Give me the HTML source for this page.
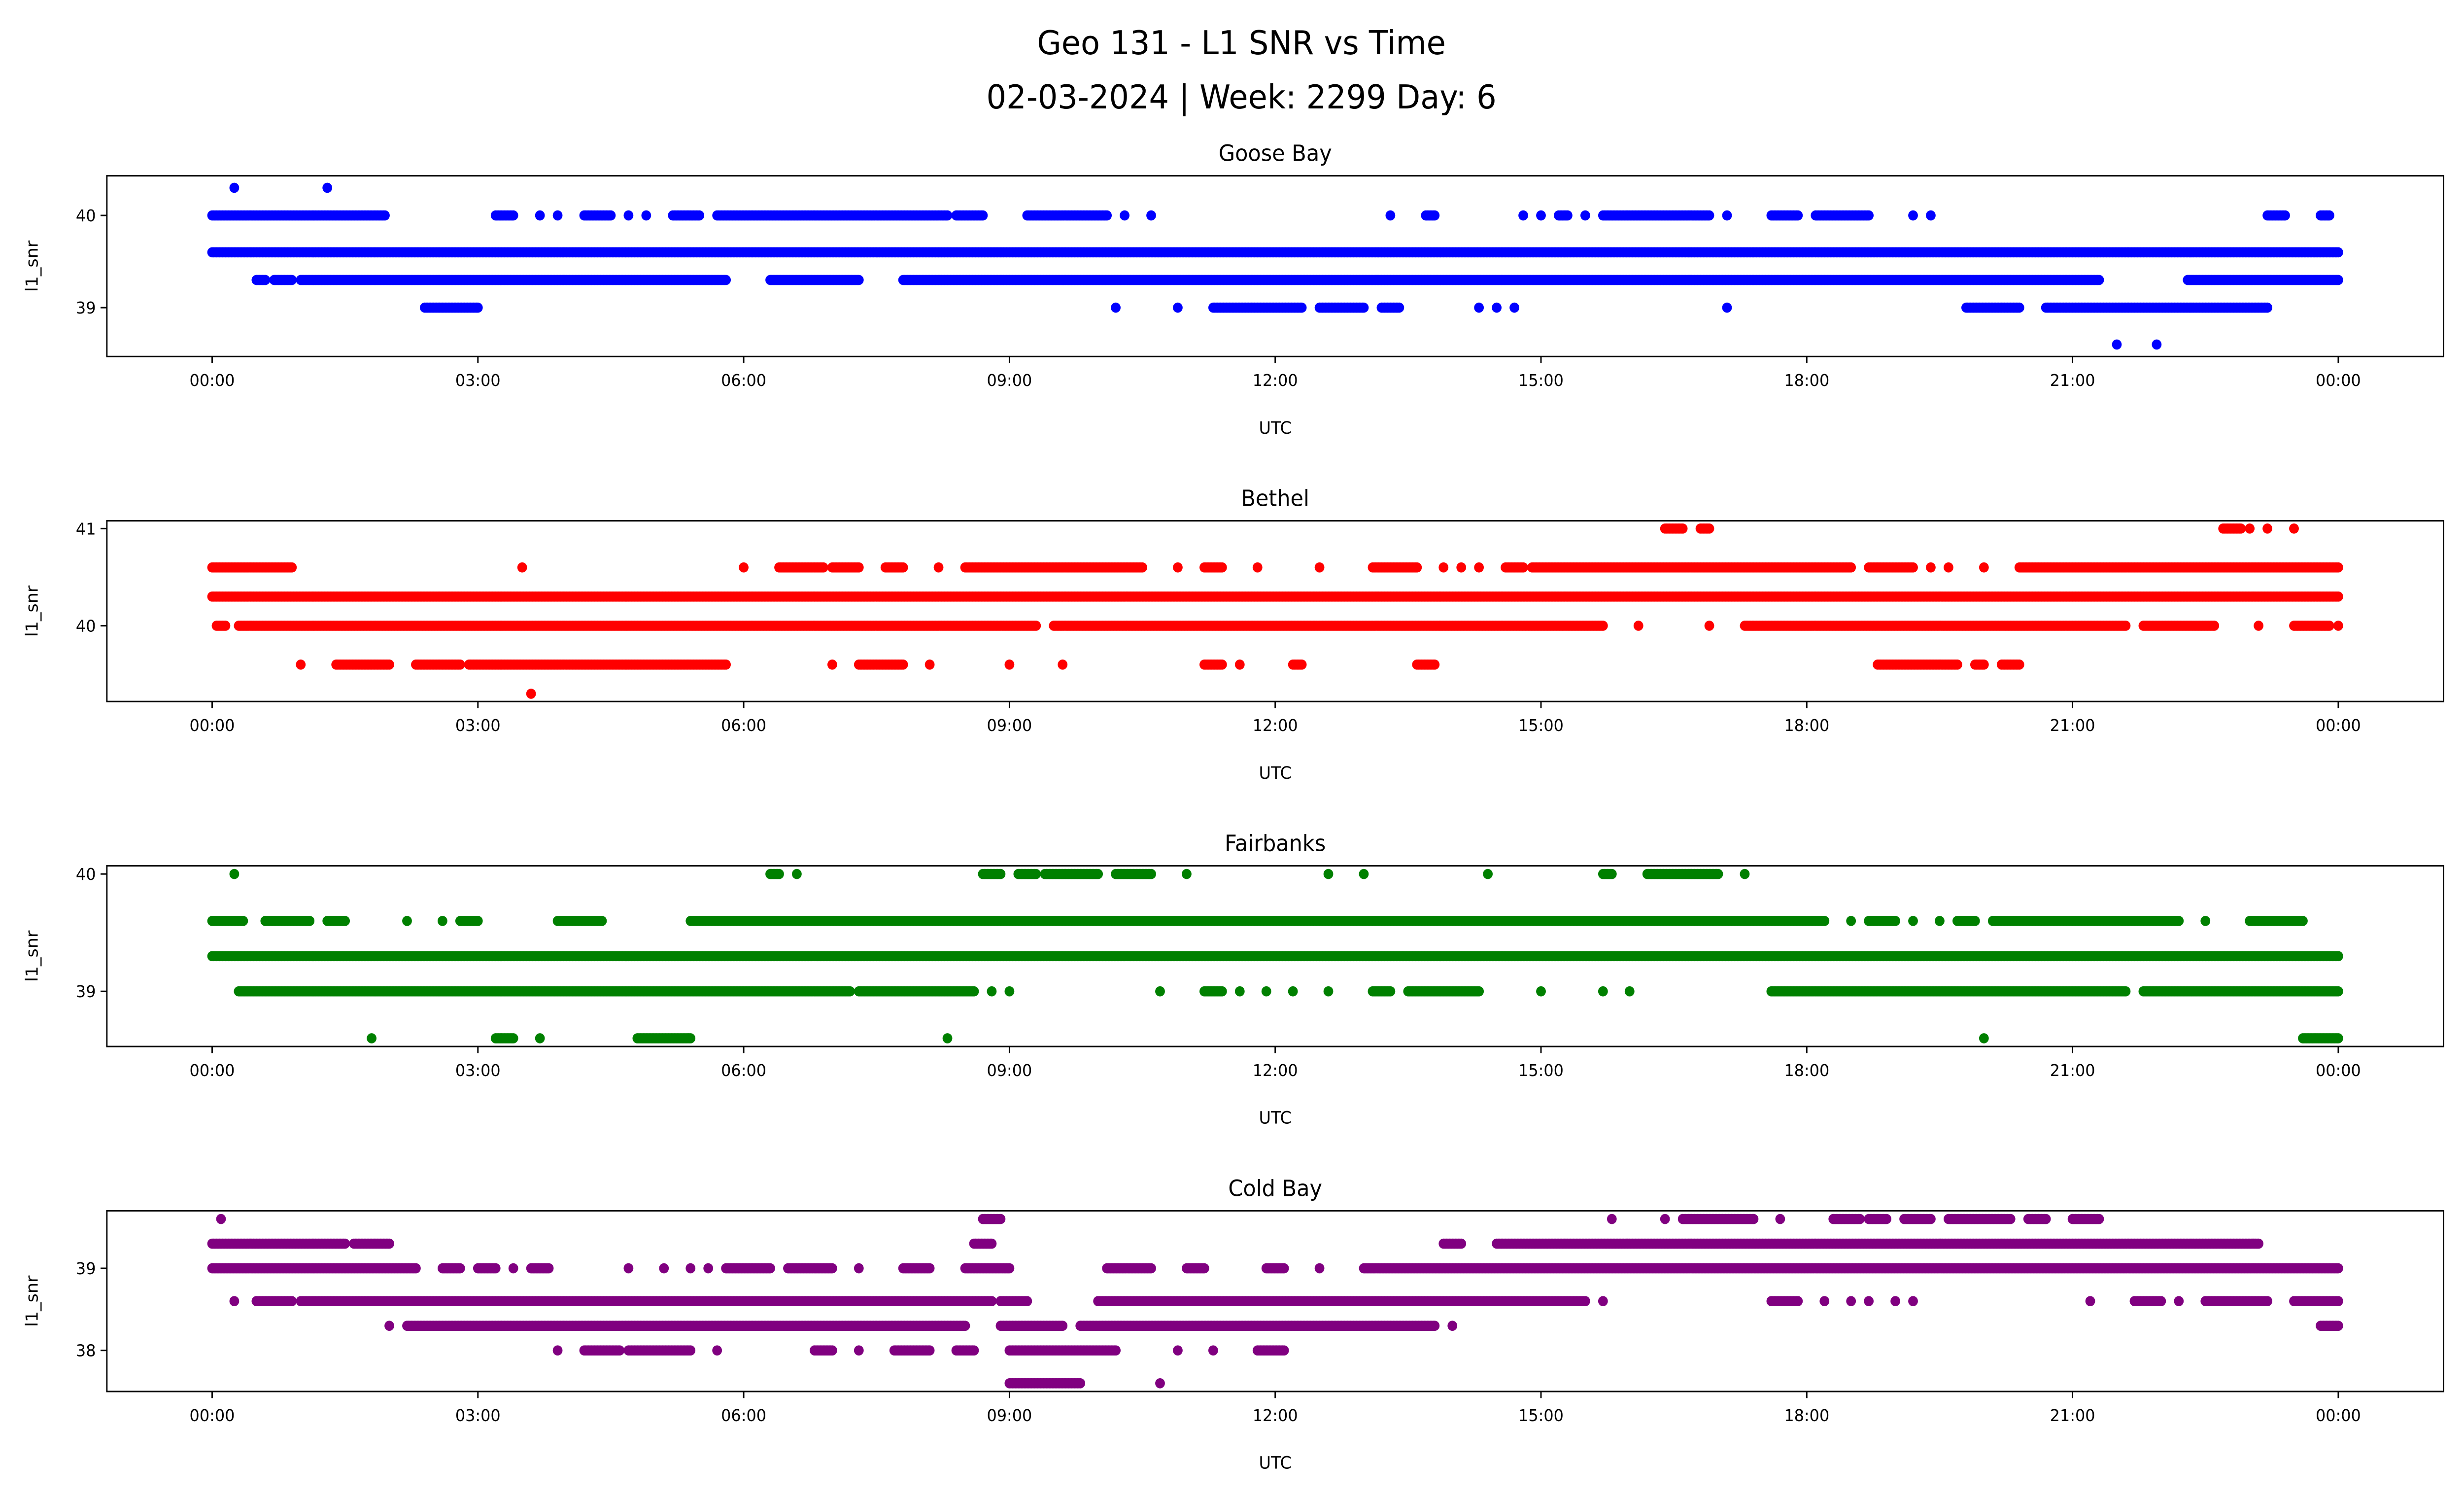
<!DOCTYPE html>
<html><head><meta charset="utf-8">
<style>
html,body{margin:0;padding:0;background:#fff;overflow:hidden;width:100vw;height:100vh;}
svg{display:block;width:100vw;height:100vh;}
text{font-family:"DejaVu Sans","Liberation Sans",sans-serif;fill:#000;}
</style></head>
<body>
<svg id="chart" viewBox="0 0 1568 910" preserveAspectRatio="none" xmlns="http://www.w3.org/2000/svg">
<rect width="1568" height="910" fill="#fff"/>
<text x="790" y="33" text-anchor="middle" font-size="20">Geo 131 - L1 SNR vs Time</text>
<text x="790" y="66" text-anchor="middle" font-size="20">02-03-2024 | Week: 2299 Day: 6</text>
<g id="panels"></g>
</svg>
<script>
// Station names and colours
const stations = ["Goose Bay","Bethel","Fairbanks","Cold Bay"];
const colors = ["#0000ff","#ff0000","#008000","#800080"];
const xTickLabels = ["00:00","03:00","06:00","09:00","12:00","15:00","18:00","21:00","00:00"];
const xTickHours = [0,3,6,9,12,15,18,21,24];
const yTicks0 = [39,40];
const yTicks1 = [40,41];
const yTicks2 = [39,40];
const yTicks3 = [38,39];
const yDomain0 = [38.47,40.43];
const yDomain1 = [39.22,41.08];
const yDomain2 = [38.53,40.07];
const yDomain3 = [37.5,39.7];
// Series: each entry [snrLevel, startHour, endHour] (dense runs of 1-min samples)
const goose = [
 [39.6,0,24],
 [39.3,0.5,0.6],[39.3,0.7,0.9],[39.3,1.0,5.8],[39.3,6.3,7.3],[39.3,7.8,21.3],[39.3,22.3,24],
 [40,0,1.95],[40,3.2,3.4],[40,3.7,3.7],[40,3.9,3.9],[40,4.2,4.5],[40,4.7,4.7],[40,4.9,4.9],[40,5.2,5.5],[40,5.7,8.3],[40,8.4,8.7],[40,9.2,10.1],[40,10.3,10.3],[40,10.6,10.6],[40,13.3,13.3],[40,13.7,13.8],[40,14.8,14.8],[40,15.0,15.0],[40,15.2,15.3],[40,15.5,15.5],[40,15.7,16.9],[40,17.1,17.1],[40,17.6,17.9],[40,18.1,18.7],[40,19.2,19.2],[40,19.4,19.4],[40,23.2,23.4],[40,23.8,23.9],
 [39,2.4,3.0],[39,10.2,10.2],[39,10.9,10.9],[39,11.3,12.3],[39,12.5,13.0],[39,13.2,13.4],[39,14.3,14.3],[39,14.5,14.5],[39,14.7,14.7],[39,17.1,17.1],[39,19.8,20.4],[39,20.7,23.2],
 [40.3,0.25,0.25],[40.3,1.3,1.3],
 [38.6,21.5,21.5],[38.6,21.95,21.95]
];
const bethel = [
 [40.3,0,24],
 [40,0.05,0.15],[40,0.3,9.3],[40,9.5,15.7],[40,16.1,16.1],[40,16.9,16.9],[40,17.3,21.6],[40,21.8,22.6],[40,23.1,23.1],[40,23.5,23.9],[40,24,24],
 [40.6,0,0.9],[40.6,3.5,3.5],[40.6,6.0,6.0],[40.6,6.4,6.9],[40.6,7.0,7.3],[40.6,7.6,7.8],[40.6,8.2,8.2],[40.6,8.5,10.5],[40.6,10.9,10.9],[40.6,11.2,11.4],[40.6,11.8,11.8],[40.6,12.5,12.5],[40.6,13.1,13.6],[40.6,13.9,13.9],[40.6,14.1,14.1],[40.6,14.3,14.3],[40.6,14.6,14.8],[40.6,14.9,18.5],[40.6,18.7,19.2],[40.6,19.4,19.4],[40.6,19.6,19.6],[40.6,20.0,20.0],[40.6,20.4,24],
 [41,16.4,16.6],[41,16.8,16.9],[41,22.7,22.9],[41,23.0,23.0],[41,23.2,23.2],[41,23.5,23.5],
 [39.6,1.0,1.0],[39.6,1.4,2.0],[39.6,2.3,2.8],[39.6,2.9,5.8],[39.6,7.0,7.0],[39.6,7.3,7.8],[39.6,8.1,8.1],[39.6,9.0,9.0],[39.6,9.6,9.6],[39.6,11.2,11.4],[39.6,11.6,11.6],[39.6,12.2,12.3],[39.6,13.6,13.8],[39.6,18.8,19.7],[39.6,19.9,20.0],[39.6,20.2,20.4],
 [39.3,3.6,3.6]
];
const fairbanks = [
 [39.3,0,24],
 [39.6,0,0.35],[39.6,0.6,1.1],[39.6,1.3,1.5],[39.6,2.2,2.2],[39.6,2.6,2.6],[39.6,2.8,3.0],[39.6,3.9,4.4],[39.6,5.4,18.2],[39.6,18.5,18.5],[39.6,18.7,19.0],[39.6,19.2,19.2],[39.6,19.5,19.5],[39.6,19.7,19.9],[39.6,20.1,22.2],[39.6,22.5,22.5],[39.6,23.0,23.6],
 [39,0.3,7.2],[39,7.3,8.6],[39,8.8,8.8],[39,9.0,9.0],[39,10.7,10.7],[39,11.2,11.4],[39,11.6,11.6],[39,11.9,11.9],[39,12.2,12.2],[39,12.6,12.6],[39,13.1,13.3],[39,13.5,14.3],[39,15.0,15.0],[39,15.7,15.7],[39,16.0,16.0],[39,17.6,21.6],[39,21.8,24],
 [40,0.25,0.25],[40,6.3,6.4],[40,6.6,6.6],[40,8.7,8.9],[40,9.1,9.3],[40,9.4,10.0],[40,10.2,10.6],[40,11.0,11.0],[40,12.6,12.6],[40,13.0,13.0],[40,14.4,14.4],[40,15.7,15.8],[40,16.2,17.0],[40,17.3,17.3],
 [38.6,1.8,1.8],[38.6,3.2,3.4],[38.6,3.7,3.7],[38.6,4.8,5.4],[38.6,8.3,8.3],[38.6,20.0,20.0],[38.6,23.6,24]
];
const coldbay = [
 [39.6,0.1,0.1],[39.6,8.7,8.9],[39.6,15.8,15.8],[39.6,16.4,16.4],[39.6,16.6,17.4],[39.6,17.7,17.7],[39.6,18.3,18.6],[39.6,18.7,18.9],[39.6,19.1,19.4],[39.6,19.6,20.3],[39.6,20.5,20.7],[39.6,21.0,21.3],
 [39.3,0,1.5],[39.3,1.6,2.0],[39.3,8.6,8.8],[39.3,13.9,14.1],[39.3,14.5,23.1],
 [39,0,2.3],[39,2.6,2.8],[39,3.0,3.2],[39,3.4,3.4],[39,3.6,3.8],[39,4.7,4.7],[39,5.1,5.1],[39,5.4,5.4],[39,5.6,5.6],[39,5.8,6.3],[39,6.5,7.0],[39,7.3,7.3],[39,7.8,8.1],[39,8.5,9.0],[39,10.1,10.6],[39,11.0,11.2],[39,11.9,12.1],[39,12.5,12.5],[39,13.0,24],
 [38.6,0.25,0.25],[38.6,0.5,0.9],[38.6,1.0,8.8],[38.6,8.9,9.2],[38.6,10.0,15.5],[38.6,15.7,15.7],[38.6,17.6,17.9],[38.6,18.2,18.2],[38.6,18.5,18.5],[38.6,18.7,18.7],[38.6,19.0,19.0],[38.6,19.2,19.2],[38.6,21.2,21.2],[38.6,21.7,22.0],[38.6,22.2,22.2],[38.6,22.5,23.2],[38.6,23.5,24],
 [38.3,2.0,2.0],[38.3,2.2,8.5],[38.3,8.9,9.6],[38.3,9.8,13.8],[38.3,14.0,14.0],[38.3,23.8,24],
 [38,3.9,3.9],[38,4.2,4.6],[38,4.7,5.4],[38,5.7,5.7],[38,6.8,7.0],[38,7.3,7.3],[38,7.7,8.1],[38,8.4,8.6],[38,9.0,10.2],[38,10.9,10.9],[38,11.3,11.3],[38,11.8,12.1],
 [37.6,9.0,9.8],[37.6,10.7,10.7]
];
const seriesList = [goose,bethel,fairbanks,coldbay];
const yTickList = [yTicks0,yTicks1,yTicks2,yTicks3];
const yDomains = [yDomain0,yDomain1,yDomain2,yDomain3];

const NS="http://www.w3.org/2000/svg";
const root=document.getElementById('panels');
const AX_L=68, AX_R=1555, X0=135, X1=1488, AX_H=110;
const tops=[107,317,527,737];
function xScale(h){return X0+(X1-X0)*h/24;}
function mk(tag,attrs,parent){const e=document.createElementNS(NS,tag);for(const k in attrs)e.setAttribute(k,attrs[k]);parent.appendChild(e);return e;}

stations.forEach((name,i)=>{
  const top=tops[i], bot=top+AX_H, dom=yDomains[i];
  const yScale=v=>bot-(v-dom[0])/(dom[1]-dom[0])*AX_H;
  const g=mk('g',{},root);
  
  
  const t=mk('text',{x:(AX_L+AX_R)/2,y:top-9,'text-anchor':'middle','font-size':'13.5'},g);
  t.textContent=name;
  
  
  const pts=mk('g',{fill:colors[i]},g);
  
  
  const cp='cp'+i;
  const clip=mk('clipPath',{id:cp},g); mk('rect',{x:AX_L,y:top,width:AX_R-AX_L,height:AX_H},clip);
  pts.setAttribute('clip-path','url(#'+cp+')');
  seriesList[i].forEach(r=>{
    const y=yScale(r[0]);
    for(let h=r[1];h<=r[2]+1e-9;h+=1/60){
      mk('circle',{cx:xScale(h).toFixed(2),cy:y.toFixed(2),r:3.1},pts);
    }
  });
  const fr=mk('rect',{x:AX_L,y:top,width:AX_R-AX_L,height:AX_H,fill:'none',stroke:'#000','stroke-width':0.9},g);
  
  
  xTickHours.forEach((h,k)=>{
    const x=xScale(h);
    mk('line',{x1:x,x2:x,y1:bot,y2:bot+4,stroke:'#000','stroke-width':0.9},g);
    const tl=mk('text',{x:x,y:bot+18,'text-anchor':'middle','font-size':'10'},g);
    tl.textContent=xTickLabels[k];
    
    
  });
  yTickList[i].forEach(v=>{
    const y=yScale(v);
    mk('line',{x1:AX_L-4,x2:AX_L,y1:y,y2:y,stroke:'#000','stroke-width':0.9},g);
    const tl=mk('text',{x:AX_L-7,y:y+3.6,'text-anchor':'end','font-size':'10'},g);
    tl.textContent=v;
    
    
  });
  const xl=mk('text',{x:(AX_L+AX_R)/2,y:bot+47,'text-anchor':'middle','font-size':'10.5'},g);
  xl.textContent='UTC';
  
  
  const yl=mk('text',{x:0,y:0,'text-anchor':'middle','font-size':'10.5',transform:'translate(24,'+(top+AX_H/2)+') rotate(-90)'},g);
  yl.textContent='l1_snr';
  
  
});
</script>
</body></html>
